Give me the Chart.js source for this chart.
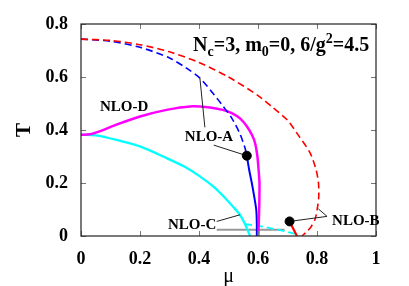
<!DOCTYPE html>
<html><head><meta charset="utf-8">
<script src="https://cdn.jsdelivr.net/npm/chart.js@4"></script>
<style>html,body{margin:0;padding:0;background:#fff}</style>
</head><body>
<canvas id="c" width="409" height="286"></canvas>
<script>
// ---- data (mu, T) ----
const redDashMu = [0, 0.1, 0.2, 0.3, 0.4, 0.5, 0.6, 0.65, 0.7, 0.74, 0.777, 0.797, 0.805, 0.806, 0.802, 0.794, 0.78, 0.766, 0.749];
const redDashT  = [0.743, 0.738, 0.722, 0.695, 0.655, 0.60, 0.53, 0.485, 0.437, 0.375, 0.313, 0.25, 0.2, 0.15, 0.11, 0.065, 0.035, 0.017, 0.0];
const redSolidMu = [0.707, 0.732];
const redSolidT  = [0.055, 0.0];
const blueDashMu = [0, 0.1, 0.2, 0.3, 0.369, 0.403, 0.448, 0.482, 0.511, 0.539, 0.556, 0.562];
const blueDashT  = [0.743, 0.735, 0.712, 0.672, 0.625, 0.596, 0.538, 0.489, 0.445, 0.385, 0.332, 0.303];
const blueSolidMu = [0.562, 0.57, 0.579, 0.587, 0.594, 0.596, 0.596];
const blueSolidT  = [0.303, 0.25, 0.2, 0.15, 0.1, 0.05, 0.0];
const magentaMu = [0, 0.03, 0.063, 0.12, 0.2, 0.29, 0.37, 0.437, 0.48, 0.511, 0.54, 0.562, 0.58, 0.59, 0.598, 0.602, 0.605, 0.604, 0.601];
const magentaT  = [0.382, 0.384, 0.395, 0.42, 0.451, 0.476, 0.489, 0.485, 0.476, 0.464, 0.443, 0.414, 0.38, 0.351, 0.30, 0.25, 0.2, 0.1, 0.0];
const cyanMu = [0, 0.05, 0.12, 0.2, 0.29, 0.35, 0.403, 0.45, 0.494, 0.52, 0.539, 0.556, 0.573];
const cyanT  = [0.382, 0.38, 0.363, 0.338, 0.294, 0.262, 0.225, 0.185, 0.137, 0.105, 0.08, 0.045, 0.0];
const cyanDashMu = [0.556, 0.6, 0.641, 0.69, 0.72, 0.742];
const cyanDashT  = [0.045, 0.038, 0.03, 0.018, 0.01, 0.0];
const grayMu = [0.46, 0.69];
const grayT  = [0.024, 0.024];
const dotMu = [0.562, 0.707];
const dotT  = [0.303, 0.055];
// pointer lines: [mu0, T0, mu1, T1]
const pointers = [
  [0.403, 0.596, 0.42, 0.41],
  [0.45, 0.343, 0.562, 0.303],
  [0.46, 0.055, 0.539, 0.08],
  [0.707, 0.055, 0.834, 0.074],
  [0.805, 0.102, 0.834, 0.074]
];
const labelTexts = ['NLO-D', 'NLO-A', 'NLO-C', 'NLO-B'];
const labelMu = [0.146, 0.352, 0.295, 0.851];
const labelT  = [0.473, 0.357, 0.0275, 0.043];
const xTicks = [0, 0.2, 0.4, 0.6, 0.8, 1];
const yTicks = [0, 0.2, 0.4, 0.6, 0.8];

const SERIF = '"Liberation Serif", "Times New Roman", serif';
const pts = (m, t) => m.map((v, i) => ({x: v, y: t[i]}));

const line = (data, color, width, dash, order) => ({
  data, borderColor: color, borderWidth: width, borderDash: dash || [],
  showLine: true, pointRadius: 0, tension: 0.25, fill: false, order
});

const datasets = [
  line(pts(grayMu, grayT), '#999999', 2, null, 9),
  line(pts(cyanMu, cyanT), '#00ffff', 2.3, null, 8),
  line(pts(cyanDashMu, cyanDashT), '#00ffff', 1.8, [7, 4], 8),
  line(pts(blueSolidMu, blueSolidT), '#0000ff', 2, null, 7),
  line(pts(magentaMu, magentaT), '#ff00ff', 2.5, null, 6),
  line(pts(blueDashMu, blueDashT), '#0000ff', 1.6, [7, 4], 5),
  line(pts(redDashMu, redDashT), '#ff0000', 1.6, [7, 4], 4),
  line(pts(redSolidMu, redSolidT), '#ff0000', 2.2, null, 3),
];
pointers.forEach(p => {
  const d = line([{x: p[0], y: p[1]}, {x: p[2], y: p[3]}], '#222222', 1, null, 2);
  d.tension = 0;
  datasets.push(d);
});
datasets.push({data: pts(dotMu, dotT), showLine: false, pointRadius: 4.5,
  pointBackgroundColor: '#000', pointBorderColor: '#000', order: 1});

const decor = {
  id: 'decor',
  afterDraw(chart) {
    const {ctx, chartArea: a, scales: {x, y}} = chart;
    ctx.save();
    // inward ticks
    ctx.strokeStyle = '#777';
    ctx.lineWidth = 1;
    ctx.beginPath();
    xTicks.forEach(v => {
      const px = Math.round(x.getPixelForValue(v)) + 0.5;
      ctx.moveTo(px, a.bottom); ctx.lineTo(px, a.bottom - 5);
      ctx.moveTo(px, a.top); ctx.lineTo(px, a.top + 5);
    });
    yTicks.forEach(v => {
      const py = Math.round(y.getPixelForValue(v)) + 0.5;
      ctx.moveTo(a.left, py); ctx.lineTo(a.left + 5, py);
      ctx.moveTo(a.right, py); ctx.lineTo(a.right - 5, py);
    });
    ctx.stroke();
    // frame
    ctx.strokeStyle = '#222';
    ctx.lineWidth = 1.2;
    ctx.strokeRect(a.left, a.top, a.right - a.left, a.bottom - a.top);
    // curve labels
    ctx.fillStyle = '#000';
    ctx.textBaseline = 'alphabetic';
    ctx.font = 'bold 15px ' + SERIF;
    labelTexts.forEach((t, i) => {
      ctx.textAlign = i === 0 ? 'center' : 'left';
      ctx.fillText(t, x.getPixelForValue(labelMu[i]), y.getPixelForValue(labelT[i]));
    });
    // header text with sub/superscripts
    ctx.textAlign = 'left';
    let cx = x.getPixelForValue(0.38);
    const by = y.getPixelForValue(0.70);
    const parts = [
      ['N', 0], ['c', 1], ['=3, m', 0], ['0', 1], ['=0, 6/g', 0], ['2', -1], ['=4.5', 0]
    ];
    parts.forEach(([s, k]) => {
      const size = k === 0 ? 20 : 14;
      ctx.font = 'bold ' + size + 'px ' + SERIF;
      const dy = k === 1 ? 5 : (k === -1 ? -8 : 0);
      ctx.fillText(s, cx, by + dy);
      cx += ctx.measureText(s).width;
    });
    ctx.restore();
  }
};

const fmt = v => Number(v.toFixed(1)).toString();

new Chart(document.getElementById('c'), {
  type: 'scatter',
  data: {datasets},
  options: {
    responsive: false,
    devicePixelRatio: 1,
    animation: false,
    layout: {padding: {top: 24, right: 33, left: 0, bottom: 0}},
    plugins: {legend: {display: false}, tooltip: {enabled: false}},
    scales: {
      x: {
        type: 'linear', min: 0, max: 1,
        afterBuildTicks: s => { s.ticks = xTicks.map(v => ({value: v})); },
        afterFit: s => { s.height = 50; },
        grid: {display: false, drawTicks: false},
        border: {display: false},
        ticks: {callback: fmt, color: '#000', padding: 13, maxRotation: 0, autoSkip: false,
          font: {family: SERIF, size: 18, weight: 'bold'}},
        title: {display: true, text: 'μ', color: '#000', padding: {top: 0, bottom: -1},
          font: {family: SERIF, size: 20, lineHeight: 1}}
      },
      y: {
        type: 'linear', min: 0, max: 0.8,
        afterBuildTicks: s => { s.ticks = yTicks.map(v => ({value: v})); },
        afterFit: s => { s.width = 81; },
        grid: {display: false, drawTicks: false},
        border: {display: false},
        ticks: {callback: fmt, color: '#000', padding: 13, autoSkip: false,
          font: {family: SERIF, size: 18, weight: 'bold'}},
        title: {display: true, text: 'T', color: '#000', padding: {top: 14, bottom: 0},
          font: {family: SERIF, size: 21, weight: 'bold', lineHeight: 1}}
      }
    }
  },
  plugins: [decor]
});
</script>
</body></html>
